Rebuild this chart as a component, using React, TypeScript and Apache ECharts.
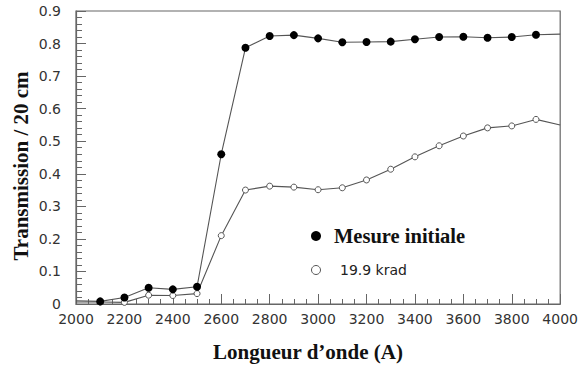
import React, { useEffect, useRef } from "react";
import * as echarts from "echarts";

const wavelengths = [2000, 2100, 2200, 2300, 2400, 2500, 2600, 2700, 2800, 2900, 3000, 3100, 3200, 3300, 3400, 3500, 3600, 3700, 3800, 3900, 4000];
const initialMeasure = [0.01, 0.008, 0.02, 0.05, 0.045, 0.053, 0.46, 0.787, 0.823, 0.826, 0.816, 0.804, 0.805, 0.806, 0.813, 0.82, 0.821, 0.818, 0.82, 0.827, 0.829];
const irradiated = [0.006, 0.006, 0.005, 0.027, 0.026, 0.032, 0.21, 0.35, 0.362, 0.359, 0.351, 0.357, 0.381, 0.414, 0.452, 0.486, 0.516, 0.541, 0.547, 0.567, 0.55];
const xTitle = "Longueur d\u2019onde (A)";
const yTitle = "Transmission / 20 cm";
const legendNames = ["Mesure initiale", "19.9 krad"];

const SANS = "DejaVu Sans";
const SERIF = "Liberation Serif";

function buildData(values: number[]) {
  return wavelengths.map((w, i) => {
    const edge = i === 0 || i === wavelengths.length - 1;
    return edge ? { value: [w, values[i]], symbol: "none" } : { value: [w, values[i]] };
  });
}

export default function App() {
  const ref = useRef<HTMLDivElement>(null);
  useEffect(() => {
    if (!ref.current) return;
    const chart = echarts.init(ref.current, undefined, { renderer: "svg" });
    const axisColor = "#666";
    chart.setOption({
      animation: false,
      backgroundColor: "#fff",
      grid: { left: 76, right: 20, top: 11, bottom: 63, show: true, borderColor: axisColor, borderWidth: 1.2 },
      xAxis: {
        type: "value",
        min: 2000,
        max: 4000,
        interval: 200,
        axisLine: { show: true, lineStyle: { color: axisColor, width: 1.2 } },
        axisTick: { show: true, inside: true, length: 10, lineStyle: { color: axisColor } },
        minorTick: { show: true, splitNumber: 4, length: 5, lineStyle: { color: axisColor } },
        splitLine: { show: false },
        axisLabel: { fontFamily: SANS, fontSize: 14, color: "#333", margin: 8, formatter: (v: number) => String(v) },
      },
      yAxis: {
        type: "value",
        min: 0,
        max: 0.9,
        interval: 0.1,
        axisLine: { show: true, lineStyle: { color: axisColor, width: 1.2 } },
        axisTick: { show: true, inside: true, length: 10, lineStyle: { color: axisColor } },
        minorTick: { show: true, splitNumber: 5, length: 6, lineStyle: { color: axisColor } },
        splitLine: { show: false },
        axisLabel: { fontFamily: SANS, fontSize: 14, color: "#333", margin: 15, formatter: (v: number) => String(Math.round(v * 10) / 10) },
      },
      series: [
        {
          name: legendNames[0],
          type: "line",
          data: buildData(initialMeasure),
          symbol: "circle",
          symbolSize: 8,
          itemStyle: { color: "#000" },
          lineStyle: { color: "#555", width: 1.1 },
          z: 3,
        },
        {
          name: legendNames[1],
          type: "line",
          data: buildData(irradiated),
          symbol: "circle",
          symbolSize: 6,
          itemStyle: { color: "#fff", borderColor: "#555", borderWidth: 1 },
          lineStyle: { color: "#555", width: 1.1 },
          z: 2,
        },
      ],
      graphic: [
        {
          type: "text",
          x: 21,
          y: 166,
          rotation: Math.PI / 2,
          style: { text: yTitle, font: `bold 21px "${SERIF}"`, fill: "#111", align: "center", verticalAlign: "middle" },
        },
        {
          type: "text",
          x: 308,
          y: 352,
          style: { text: xTitle, font: `bold 21px "${SERIF}"`, fill: "#111", align: "center", verticalAlign: "middle" },
        },
        { type: "circle", shape: { cx: 316, cy: 236, r: 5 }, style: { fill: "#000" } },
        {
          type: "text",
          x: 334,
          y: 236,
          style: { text: legendNames[0], font: `bold 20.5px "${SERIF}"`, fill: "#111", align: "left", verticalAlign: "middle" },
        },
        { type: "circle", shape: { cx: 316, cy: 270, r: 4.5 }, style: { fill: "#fff", stroke: "#555", lineWidth: 1 } },
        {
          type: "text",
          x: 340,
          y: 270,
          style: { text: legendNames[1], font: `14px "${SANS}"`, fill: "#222", align: "left", verticalAlign: "middle" },
        },
      ],
    });
    return () => chart.dispose();
  }, []);
  return <div ref={ref} style={{ width: 581, height: 367, position: "absolute", left: 0, top: 0 }} />;
}
